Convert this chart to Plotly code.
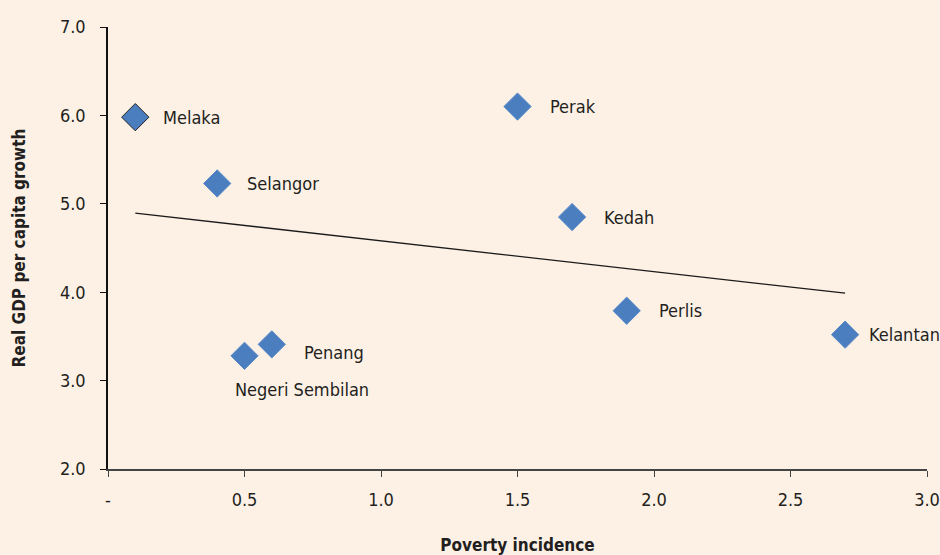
import numpy as np
import plotly.graph_objects as go

states = ["Melaka", "Selangor", "Perak", "Kedah", "Perlis", "Kelantan", "Penang", "Negeri Sembilan"]
poverty = [0.1, 0.4, 1.5, 1.7, 1.9, 2.7, 0.6, 0.5]
growth = [5.98, 5.23, 6.10, 4.85, 3.79, 3.52, 3.41, 3.28]

x_tickvals = [0, 0.5, 1.0, 1.5, 2.0, 2.5, 3.0]
x_ticktext = ["-", "0.5", "1.0", "1.5", "2.0", "2.5", "3.0"]
y_tickvals = [2, 3, 4, 5, 6, 7]
y_ticktext = ["2.0", "3.0", "4.0", "5.0", "6.0", "7.0"]

FONT = "DejaVu Sans Condensed, Liberation Sans Narrow, Roboto, sans-serif"
BG = "#FDF1E6"
BLUE = "#4A7EBF"
FS = 18

# label placement (pixel offsets from marker)
label_offsets = {"Melaka": (26, 0), "Selangor": (28, 0), "Perak": (30, 0), "Kedah": (30, 0),
                 "Perlis": (30, 0), "Kelantan": (22, 0), "Penang": (30, -8),
                 "Negeri Sembilan": (-12, -34)}

slope, intercept = np.polyfit(poverty, growth, 1)
trend_x = [min(poverty), max(poverty)]
trend_y = [slope * v + intercept for v in trend_x]

fig = go.Figure()
fig.add_trace(go.Scatter(x=trend_x, y=trend_y, mode="lines",
                         line=dict(color="#1a1a1a", width=1.3), hoverinfo="skip"))
outline = ["#222222" if s == "Melaka" else "#5B8CC8" for s in states]
fig.add_trace(go.Scatter(x=poverty, y=growth, mode="markers",
                         marker=dict(symbol="diamond", size=21, color=BLUE,
                                     line=dict(color=outline, width=1))))

for s, xv, yv in zip(states, poverty, growth):
    dx, dy = label_offsets[s]
    fig.add_annotation(x=xv, y=yv, text=s, showarrow=False, xanchor="left",
                       yanchor="middle", xshift=dx, yshift=dy,
                       font=dict(family=FONT, size=FS, color="#231f20"))

fig.update_layout(
    width=940, height=555,
    paper_bgcolor=BG, plot_bgcolor=BG,
    margin=dict(l=108, r=13, t=27, b=86, autoexpand=False),
    showlegend=False,
    font=dict(family=FONT, size=FS, color="#231f20"),
)
fig.update_xaxes(range=[0, 3.0], tickvals=x_tickvals, ticktext=x_ticktext,
                 automargin=False,
                 showgrid=False, zeroline=False, showline=True, linecolor="#444444",
                 linewidth=1.5, ticks="outside", ticklen=6, tickcolor="#444444",
                 ticklabelstandoff=8,
                 title=dict(text="<b>Poverty incidence</b>", font=dict(family=FONT, size=17),
                            standoff=30))
fig.update_yaxes(range=[2.0, 7.0], tickvals=y_tickvals, ticktext=y_ticktext,
                 automargin=False,
                 showgrid=False, zeroline=False, showline=True, linecolor="#111111",
                 linewidth=1.5, ticks="outside", ticklen=6, tickcolor="#111111",
                 ticklabelstandoff=11,
                 title=dict(text="<b>Real GDP per capita growth</b>", font=dict(family=FONT, size=17),
                            standoff=30))

fig.write_html("out.html", config={"displayModeBar": False},
               post_script="document.body.style.margin='0px';document.body.style.overflow='hidden';document.documentElement.style.overflow='hidden';document.body.style.background='%s';" % BG)
